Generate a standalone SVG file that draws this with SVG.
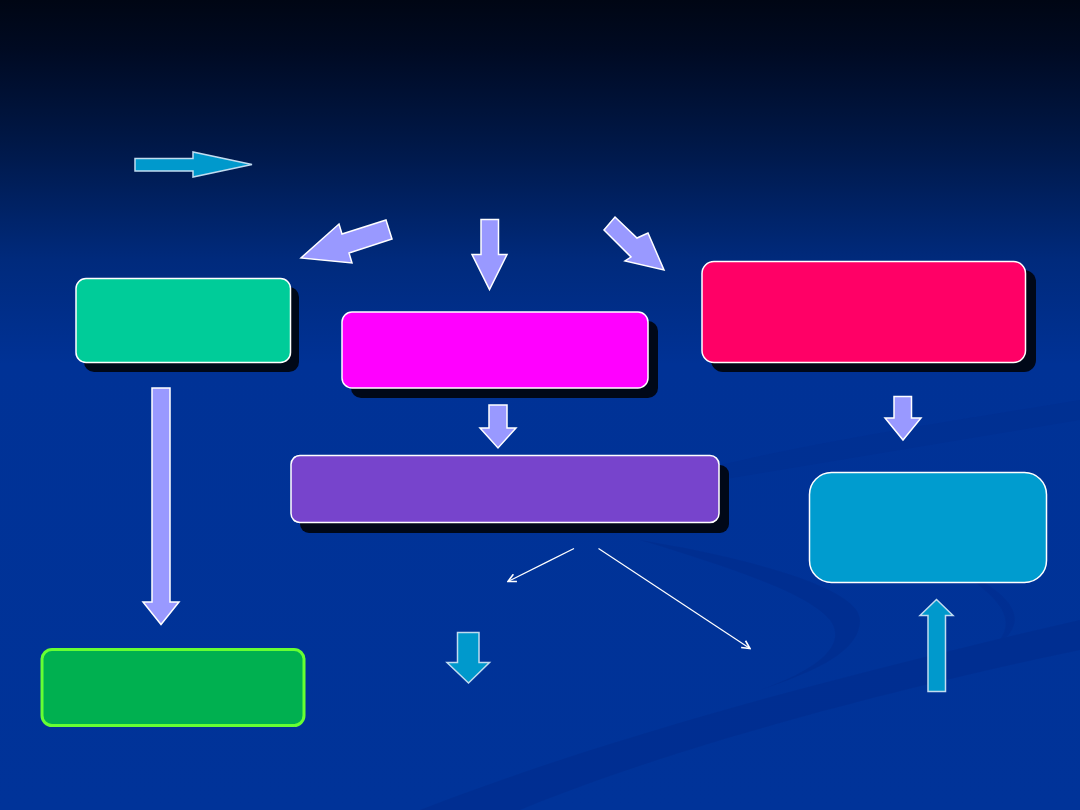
<svg xmlns="http://www.w3.org/2000/svg" width="1080" height="810" viewBox="0 0 1080 810">
  <defs>
    <linearGradient id="bg" x1="0" y1="0" x2="0" y2="810" gradientUnits="userSpaceOnUse">
      <stop offset="0" stop-color="#000614"/>
      <stop offset="0.06" stop-color="#000a22"/>
      <stop offset="0.18" stop-color="#001848"/>
      <stop offset="0.32" stop-color="#002a7c"/>
      <stop offset="0.45" stop-color="#003296"/>
      <stop offset="1" stop-color="#003399"/>
    </linearGradient>
    <marker id="open" viewBox="0 0 10 10" refX="9" refY="5" markerWidth="10" markerHeight="10" markerUnits="userSpaceOnUse" orient="auto">
      <path d="M1,1 L9,5 L1,9" fill="none" stroke="#ffffff" stroke-width="1.6"/>
    </marker>
  </defs>
  <style>
    .shadow { fill: #000818; }
    .box { stroke: #ffffff; stroke-width: 1.5; }
    .lav { fill: #9999ff; stroke: #ffffff; stroke-width: 1.5; stroke-linejoin: miter; }
    .cyan { fill: #0099cc; stroke: #c0dcf0; stroke-width: 1.5; }
    .thin { stroke: #ffffff; stroke-width: 1.2; fill: none; }
  </style>

  <rect width="1080" height="810" fill="url(#bg)"/>
  <!-- background swooshes -->
  <g id="swoosh" fill="#002a88" opacity="0.4">
    <path d="M640,540 C760,560 860,590 860,620 C860,650 820,670 760,690 C830,665 845,640 830,620 C810,595 740,570 640,540 Z"/>
    <path d="M420,810 C600,740 820,680 1080,620 L1080,650 C840,700 640,760 520,810 Z"/>
    <path d="M700,470 C820,440 960,420 1080,400 L1080,420 C960,440 840,460 720,480 Z" opacity="0.6"/>
    <path d="M940,560 C1010,590 1040,620 990,650 C1020,625 1010,600 940,560 Z" opacity="0.7"/>
  </g>

  <g id="node-teal">
    <rect class="shadow" x="84" y="287" width="215" height="85" rx="10"/>
    <rect class="box" x="76" y="278.5" width="214.5" height="84" rx="10" fill="#00cc99"/>
  </g>
  <g id="node-magenta">
    <rect class="shadow" x="351" y="321" width="307" height="77" rx="10"/>
    <rect class="box" x="342" y="312" width="306" height="76" rx="10" fill="#ff00ff"/>
  </g>
  <g id="node-red">
    <rect class="shadow" x="711" y="270" width="325" height="102" rx="12"/>
    <rect class="box" x="702" y="261.5" width="323.5" height="101" rx="12" fill="#ff0066"/>
  </g>
  <g id="node-purple">
    <rect class="shadow" x="300" y="465" width="429" height="68" rx="9"/>
    <rect class="box" x="291" y="455.5" width="428" height="67" rx="9" fill="#7744cc"/>
  </g>
  <g id="node-blue">
    <rect class="box" x="809.5" y="472.5" width="237" height="110" rx="22" fill="#009ccf"/>
  </g>
  <g id="node-green">
    <rect x="42" y="649.5" width="262" height="76" rx="10" fill="#00b050" stroke="#66ff33" stroke-width="3"/>
  </g>

  <g id="connectors">
    <polygon class="cyan" points="135,158.5 193,158.5 193,152 252,164.5 193,177 193,171 135,171"/>
    <polygon class="lav" points="386,220 392,239 349,253 352,263 301,258 339,224 342,234"/>
    <polygon class="lav" points="481,219.5 498.5,219.5 498.5,254.5 507,254.5 489.5,289.5 472,254.5 481,254.5"/>
    <polygon class="lav" points="615,217 637,238 648,233 664,270 625,261 631,257 604,230"/>
    <polygon class="lav" points="152,388 170,388 170,602 179,602 161,624.5 143,602 152,602"/>
    <polygon class="lav" points="489,405 507,405 507,428 516,428 498,448 480,428 489,428"/>
    <polygon class="lav" points="894,396.5 911.5,396.5 911.5,418 921,418 903,440 885,418 894,418"/>
    <polygon class="cyan" points="928,691.5 945.5,691.5 945.5,615.5 953,615.5 936.5,599.5 920,615.5 928,615.5"/>
    <polygon class="cyan" points="457.5,632.5 479,632.5 479,662.5 489.5,662.5 468.5,683 447,662.5 457.5,662.5"/>
    <line class="thin" x1="574" y1="548.5" x2="508" y2="581.5" marker-end="url(#open)"/>
    <line class="thin" x1="598.5" y1="548.5" x2="750" y2="648.5" marker-end="url(#open)"/>
  </g>
</svg>
